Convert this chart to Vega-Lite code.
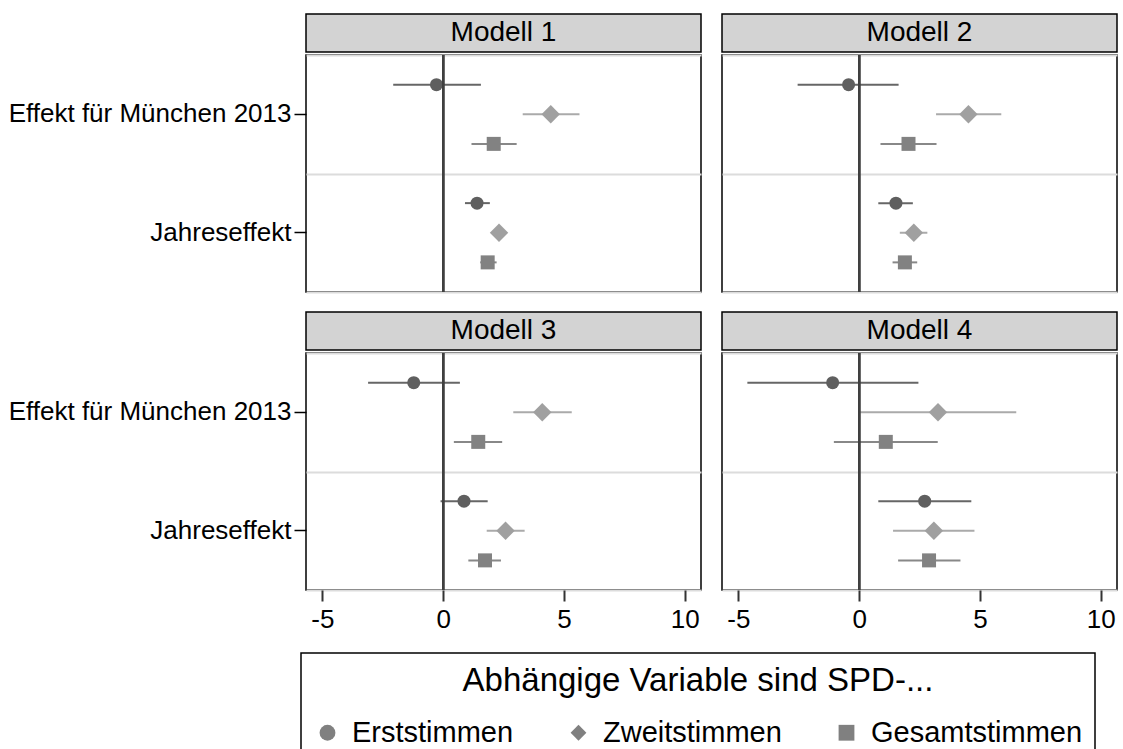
{
  "$schema": "https://vega.github.io/schema/vega-lite/v6.json",
  "padding": {"left": 7, "top": 13, "right": 0, "bottom": 0},
  "background": "white",
  "data": {"values": [
    {"model": "Modell 1", "effect": "Effekt für München 2013", "series": "Erststimmen", "est": -0.28, "lo": -2.07, "hi": 1.56},
    {"model": "Modell 1", "effect": "Effekt für München 2013", "series": "Zweitstimmen", "est": 4.45, "lo": 3.29, "hi": 5.64},
    {"model": "Modell 1", "effect": "Effekt für München 2013", "series": "Gesamtstimmen", "est": 2.09, "lo": 1.17, "hi": 3.04},
    {"model": "Modell 1", "effect": "Jahreseffekt", "series": "Erststimmen", "est": 1.40, "lo": 0.90, "hi": 1.93},
    {"model": "Modell 1", "effect": "Jahreseffekt", "series": "Zweitstimmen", "est": 2.31, "lo": 2.05, "hi": 2.57},
    {"model": "Modell 1", "effect": "Jahreseffekt", "series": "Gesamtstimmen", "est": 1.84, "lo": 1.53, "hi": 2.21},
    {"model": "Modell 2", "effect": "Effekt für München 2013", "series": "Erststimmen", "est": -0.44, "lo": -2.55, "hi": 1.63},
    {"model": "Modell 2", "effect": "Effekt für München 2013", "series": "Zweitstimmen", "est": 4.52, "lo": 3.18, "hi": 5.88},
    {"model": "Modell 2", "effect": "Effekt für München 2013", "series": "Gesamtstimmen", "est": 2.04, "lo": 0.88, "hi": 3.20},
    {"model": "Modell 2", "effect": "Jahreseffekt", "series": "Erststimmen", "est": 1.52, "lo": 0.79, "hi": 2.22},
    {"model": "Modell 2", "effect": "Jahreseffekt", "series": "Zweitstimmen", "est": 2.26, "lo": 1.68, "hi": 2.82},
    {"model": "Modell 2", "effect": "Jahreseffekt", "series": "Gesamtstimmen", "est": 1.89, "lo": 1.38, "hi": 2.40},
    {"model": "Modell 3", "effect": "Effekt für München 2013", "series": "Erststimmen", "est": -1.22, "lo": -3.11, "hi": 0.69},
    {"model": "Modell 3", "effect": "Effekt für München 2013", "series": "Zweitstimmen", "est": 4.10, "lo": 2.90, "hi": 5.32},
    {"model": "Modell 3", "effect": "Effekt für München 2013", "series": "Gesamtstimmen", "est": 1.45, "lo": 0.44, "hi": 2.44},
    {"model": "Modell 3", "effect": "Jahreseffekt", "series": "Erststimmen", "est": 0.86, "lo": -0.11, "hi": 1.84},
    {"model": "Modell 3", "effect": "Jahreseffekt", "series": "Zweitstimmen", "est": 2.58, "lo": 1.80, "hi": 3.37},
    {"model": "Modell 3", "effect": "Jahreseffekt", "series": "Gesamtstimmen", "est": 1.73, "lo": 1.04, "hi": 2.39},
    {"model": "Modell 4", "effect": "Effekt für München 2013", "series": "Erststimmen", "est": -1.10, "lo": -4.63, "hi": 2.45},
    {"model": "Modell 4", "effect": "Effekt für München 2013", "series": "Zweitstimmen", "est": 3.26, "lo": 0.04, "hi": 6.50},
    {"model": "Modell 4", "effect": "Effekt für München 2013", "series": "Gesamtstimmen", "est": 1.10, "lo": -1.05, "hi": 3.25},
    {"model": "Modell 4", "effect": "Jahreseffekt", "series": "Erststimmen", "est": 2.71, "lo": 0.79, "hi": 4.64},
    {"model": "Modell 4", "effect": "Jahreseffekt", "series": "Zweitstimmen", "est": 3.09, "lo": 1.40, "hi": 4.77},
    {"model": "Modell 4", "effect": "Jahreseffekt", "series": "Gesamtstimmen", "est": 2.89, "lo": 1.61, "hi": 4.19}
  ]},
  "spacing": 17,
  "vconcat": [
    {"hconcat": [
      {"vconcat": [
        {"width": 395, "height": 38, "view": {"fill": "#d3d3d3", "stroke": "black", "strokeWidth": 1.5},
         "transform": [{"filter": "datum.model == 'Modell 1'"}, {"aggregate": [{"op": "count", "as": "n"}], "groupby": ["model"]}],
         "mark": {"type": "text", "fontSize": 28, "color": "black"},
         "encoding": {"text": {"field": "model"},
           "y": {"field": "model", "type": "nominal", "title": null, "axis": {"labels": false, "ticks": false, "domain": false, "grid": false, "minExtent": 294, "maxExtent": 294}}}},
        {"width": 395, "height": 237,
         "transform": [{"filter": "datum.model == 'Modell 1'"}],
         "layer": [
           {"mark": {"type": "rule", "strokeWidth": 2},
            "encoding": {
              "y": {"field": "effect", "type": "nominal", "sort": ["Effekt für München 2013", "Jahreseffekt"], "scale": {"paddingInner": 0, "paddingOuter": 0}, "title": null, "axis": {"minExtent": 294, "maxExtent": 294}},
              "yOffset": {"field": "series", "type": "nominal", "sort": ["Erststimmen", "Zweitstimmen", "Gesamtstimmen"], "scale": {"paddingInner": 0, "paddingOuter": 0.5}},
              "x": {"field": "lo", "type": "quantitative", "scale": {"domain": [-5.68, 10.67], "nice": false, "zero": false}, "title": null, "axis": null},
              "x2": {"field": "hi"},
              "stroke": {"field": "series", "type": "nominal", "sort": ["Erststimmen", "Zweitstimmen", "Gesamtstimmen"], "scale": {"range": ["#666666", "#aaaaaa", "#888888"]}, "legend": null}}},
           {"mark": {"type": "point", "filled": true, "opacity": 1},
            "encoding": {
              "y": {"field": "effect", "type": "nominal", "sort": ["Effekt für München 2013", "Jahreseffekt"], "title": null, "axis": {"grid": true, "tickBand": "extent", "labels": false, "ticks": false, "domain": false, "orient": "right", "gridColor": "#dcdcdc", "gridWidth": 2, "minExtent": 0, "maxExtent": 0}},
              "yOffset": {"field": "series", "type": "nominal", "sort": ["Erststimmen", "Zweitstimmen", "Gesamtstimmen"]},
              "x": {"field": "est", "type": "quantitative", "title": null, "axis": null},
              "color": {"field": "series", "type": "nominal", "sort": ["Erststimmen", "Zweitstimmen", "Gesamtstimmen"], "scale": {"range": ["#5f5f5f", "#a0a0a0", "#828282"]}, "legend": null},
              "shape": {"field": "series", "type": "nominal", "sort": ["Erststimmen", "Zweitstimmen", "Gesamtstimmen"], "scale": {"range": ["circle", "diamond", "square"]}, "title": "Abhängige Variable sind SPD-...", "legend": {"orient": "none", "legendX": -5, "legendY": 639, "direction": "horizontal", "symbolFillColor": "#808080", "encode": {"symbols": {"update": {"fill": {"scale": "color", "field": "value"}}}}}},
              "size": {"field": "series", "type": "nominal", "sort": ["Erststimmen", "Zweitstimmen", "Gesamtstimmen"], "scale": {"type": "ordinal", "range": [169, 340, 196]}, "legend": null}}},
           {"mark": {"type": "rule", "color": "#404040", "strokeWidth": 2},
            "encoding": {"x": {"datum": 0, "type": "quantitative", "title": null, "axis": null}}}
         ],
         "resolve": {"axis": {"y": "independent"}}}
      ], "spacing": 0},
      {"vconcat": [
        {"width": 395, "height": 38, "view": {"fill": "#d3d3d3", "stroke": "black", "strokeWidth": 1.5},
         "transform": [{"filter": "datum.model == 'Modell 2'"}, {"aggregate": [{"op": "count", "as": "n"}], "groupby": ["model"]}],
         "mark": {"type": "text", "fontSize": 28, "color": "black"},
         "encoding": {"text": {"field": "model"}}},
        {"width": 395, "height": 237,
         "transform": [{"filter": "datum.model == 'Modell 2'"}],
         "layer": [
           {"mark": {"type": "rule", "strokeWidth": 2},
            "encoding": {
              "y": {"field": "effect", "type": "nominal", "sort": ["Effekt für München 2013", "Jahreseffekt"], "scale": {"paddingInner": 0, "paddingOuter": 0}, "title": null, "axis": null},
              "yOffset": {"field": "series", "type": "nominal", "sort": ["Erststimmen", "Zweitstimmen", "Gesamtstimmen"], "scale": {"paddingInner": 0, "paddingOuter": 0.5}},
              "x": {"field": "lo", "type": "quantitative", "scale": {"domain": [-5.68, 10.67], "nice": false, "zero": false}, "title": null, "axis": null},
              "x2": {"field": "hi"},
              "stroke": {"field": "series", "type": "nominal", "sort": ["Erststimmen", "Zweitstimmen", "Gesamtstimmen"], "scale": {"range": ["#666666", "#aaaaaa", "#888888"]}, "legend": null}}},
           {"mark": {"type": "point", "filled": true, "opacity": 1},
            "encoding": {
              "y": {"field": "effect", "type": "nominal", "sort": ["Effekt für München 2013", "Jahreseffekt"], "title": null, "axis": {"grid": true, "tickBand": "extent", "labels": false, "ticks": false, "domain": false, "orient": "right", "gridColor": "#dcdcdc", "gridWidth": 2, "minExtent": 0, "maxExtent": 0}},
              "yOffset": {"field": "series", "type": "nominal", "sort": ["Erststimmen", "Zweitstimmen", "Gesamtstimmen"]},
              "x": {"field": "est", "type": "quantitative", "title": null, "axis": null},
              "color": {"field": "series", "type": "nominal", "sort": ["Erststimmen", "Zweitstimmen", "Gesamtstimmen"], "scale": {"range": ["#5f5f5f", "#a0a0a0", "#828282"]}, "legend": null},
              "shape": {"field": "series", "type": "nominal", "sort": ["Erststimmen", "Zweitstimmen", "Gesamtstimmen"], "scale": {"range": ["circle", "diamond", "square"]}, "title": "Abhängige Variable sind SPD-...", "legend": {"orient": "none", "legendX": -5, "legendY": 639, "direction": "horizontal", "symbolFillColor": "#808080", "encode": {"symbols": {"update": {"fill": {"scale": "color", "field": "value"}}}}}},
              "size": {"field": "series", "type": "nominal", "sort": ["Erststimmen", "Zweitstimmen", "Gesamtstimmen"], "scale": {"type": "ordinal", "range": [169, 340, 196]}, "legend": null}}},
           {"mark": {"type": "rule", "color": "#404040", "strokeWidth": 2},
            "encoding": {"x": {"datum": 0, "type": "quantitative", "title": null, "axis": null}}}
         ],
         "resolve": {"axis": {"y": "independent"}}}
      ], "spacing": 0}
    ], "spacing": 19},
    {"hconcat": [
      {"vconcat": [
        {"width": 395, "height": 38, "view": {"fill": "#d3d3d3", "stroke": "black", "strokeWidth": 1.5},
         "transform": [{"filter": "datum.model == 'Modell 3'"}, {"aggregate": [{"op": "count", "as": "n"}], "groupby": ["model"]}],
         "mark": {"type": "text", "fontSize": 28, "color": "black"},
         "encoding": {"text": {"field": "model"},
           "y": {"field": "model", "type": "nominal", "title": null, "axis": {"labels": false, "ticks": false, "domain": false, "grid": false, "minExtent": 294, "maxExtent": 294}}}},
        {"width": 395, "height": 237,
         "transform": [{"filter": "datum.model == 'Modell 3'"}],
         "layer": [
           {"mark": {"type": "rule", "strokeWidth": 2},
            "encoding": {
              "y": {"field": "effect", "type": "nominal", "sort": ["Effekt für München 2013", "Jahreseffekt"], "scale": {"paddingInner": 0, "paddingOuter": 0}, "title": null, "axis": {"minExtent": 294, "maxExtent": 294}},
              "yOffset": {"field": "series", "type": "nominal", "sort": ["Erststimmen", "Zweitstimmen", "Gesamtstimmen"], "scale": {"paddingInner": 0, "paddingOuter": 0.5}},
              "x": {"field": "lo", "type": "quantitative", "scale": {"domain": [-5.68, 10.67], "nice": false, "zero": false}, "title": null, "axis": {"values": [-5, 0, 5, 10], "labelExpr": "'' + datum.value"}},
              "x2": {"field": "hi"},
              "stroke": {"field": "series", "type": "nominal", "sort": ["Erststimmen", "Zweitstimmen", "Gesamtstimmen"], "scale": {"range": ["#666666", "#aaaaaa", "#888888"]}, "legend": null}}},
           {"mark": {"type": "point", "filled": true, "opacity": 1},
            "encoding": {
              "y": {"field": "effect", "type": "nominal", "sort": ["Effekt für München 2013", "Jahreseffekt"], "title": null, "axis": {"grid": true, "tickBand": "extent", "labels": false, "ticks": false, "domain": false, "orient": "right", "gridColor": "#dcdcdc", "gridWidth": 2, "minExtent": 0, "maxExtent": 0}},
              "yOffset": {"field": "series", "type": "nominal", "sort": ["Erststimmen", "Zweitstimmen", "Gesamtstimmen"]},
              "x": {"field": "est", "type": "quantitative", "title": null, "axis": {"values": [-5, 0, 5, 10], "labelExpr": "'' + datum.value"}},
              "color": {"field": "series", "type": "nominal", "sort": ["Erststimmen", "Zweitstimmen", "Gesamtstimmen"], "scale": {"range": ["#5f5f5f", "#a0a0a0", "#828282"]}, "legend": null},
              "shape": {"field": "series", "type": "nominal", "sort": ["Erststimmen", "Zweitstimmen", "Gesamtstimmen"], "scale": {"range": ["circle", "diamond", "square"]}, "title": "Abhängige Variable sind SPD-...", "legend": {"orient": "none", "legendX": -5, "legendY": 639, "direction": "horizontal", "symbolFillColor": "#808080", "encode": {"symbols": {"update": {"fill": {"scale": "color", "field": "value"}}}}}},
              "size": {"field": "series", "type": "nominal", "sort": ["Erststimmen", "Zweitstimmen", "Gesamtstimmen"], "scale": {"type": "ordinal", "range": [169, 340, 196]}, "legend": null}}},
           {"mark": {"type": "rule", "color": "#404040", "strokeWidth": 2},
            "encoding": {"x": {"datum": 0, "type": "quantitative", "title": null, "axis": {"values": [-5, 0, 5, 10], "labelExpr": "'' + datum.value"}}}}
         ],
         "resolve": {"axis": {"y": "independent"}}}
      ], "spacing": 0},
      {"vconcat": [
        {"width": 395, "height": 38, "view": {"fill": "#d3d3d3", "stroke": "black", "strokeWidth": 1.5},
         "transform": [{"filter": "datum.model == 'Modell 4'"}, {"aggregate": [{"op": "count", "as": "n"}], "groupby": ["model"]}],
         "mark": {"type": "text", "fontSize": 28, "color": "black"},
         "encoding": {"text": {"field": "model"}}},
        {"width": 395, "height": 237,
         "transform": [{"filter": "datum.model == 'Modell 4'"}],
         "layer": [
           {"mark": {"type": "rule", "strokeWidth": 2},
            "encoding": {
              "y": {"field": "effect", "type": "nominal", "sort": ["Effekt für München 2013", "Jahreseffekt"], "scale": {"paddingInner": 0, "paddingOuter": 0}, "title": null, "axis": null},
              "yOffset": {"field": "series", "type": "nominal", "sort": ["Erststimmen", "Zweitstimmen", "Gesamtstimmen"], "scale": {"paddingInner": 0, "paddingOuter": 0.5}},
              "x": {"field": "lo", "type": "quantitative", "scale": {"domain": [-5.68, 10.67], "nice": false, "zero": false}, "title": null, "axis": {"values": [-5, 0, 5, 10], "labelExpr": "'' + datum.value"}},
              "x2": {"field": "hi"},
              "stroke": {"field": "series", "type": "nominal", "sort": ["Erststimmen", "Zweitstimmen", "Gesamtstimmen"], "scale": {"range": ["#666666", "#aaaaaa", "#888888"]}, "legend": null}}},
           {"mark": {"type": "point", "filled": true, "opacity": 1},
            "encoding": {
              "y": {"field": "effect", "type": "nominal", "sort": ["Effekt für München 2013", "Jahreseffekt"], "title": null, "axis": {"grid": true, "tickBand": "extent", "labels": false, "ticks": false, "domain": false, "orient": "right", "gridColor": "#dcdcdc", "gridWidth": 2, "minExtent": 0, "maxExtent": 0}},
              "yOffset": {"field": "series", "type": "nominal", "sort": ["Erststimmen", "Zweitstimmen", "Gesamtstimmen"]},
              "x": {"field": "est", "type": "quantitative", "title": null, "axis": {"values": [-5, 0, 5, 10], "labelExpr": "'' + datum.value"}},
              "color": {"field": "series", "type": "nominal", "sort": ["Erststimmen", "Zweitstimmen", "Gesamtstimmen"], "scale": {"range": ["#5f5f5f", "#a0a0a0", "#828282"]}, "legend": null},
              "shape": {"field": "series", "type": "nominal", "sort": ["Erststimmen", "Zweitstimmen", "Gesamtstimmen"], "scale": {"range": ["circle", "diamond", "square"]}, "title": "Abhängige Variable sind SPD-...", "legend": {"orient": "none", "legendX": -5, "legendY": 639, "direction": "horizontal", "symbolFillColor": "#808080", "encode": {"symbols": {"update": {"fill": {"scale": "color", "field": "value"}}}}}},
              "size": {"field": "series", "type": "nominal", "sort": ["Erststimmen", "Zweitstimmen", "Gesamtstimmen"], "scale": {"type": "ordinal", "range": [169, 340, 196]}, "legend": null}}},
           {"mark": {"type": "rule", "color": "#404040", "strokeWidth": 2},
            "encoding": {"x": {"datum": 0, "type": "quantitative", "title": null, "axis": {"values": [-5, 0, 5, 10], "labelExpr": "'' + datum.value"}}}}
         ],
         "resolve": {"axis": {"y": "independent"}}}
      ], "spacing": 0}
    ], "spacing": 19}
  ],
  "config": {
    "font": "Liberation Sans",
    "view": {"stroke": "black", "strokeWidth": 1.5},
    "axisY": {"labelFontSize": 26, "labelColor": "black", "labelLimit": 400, "tickColor": "black", "tickSize": 12, "tickWidth": 1.5, "labelPadding": 3, "domain": false, "grid": false},
    "axisX": {"labelFontSize": 26, "labelColor": "black", "tickColor": "#333333", "tickSize": 11, "tickWidth": 2, "labelPadding": 5, "domain": false, "grid": false},
    "legend": {"titleOrient": "top", "titleAnchor": "middle", "titleFontSize": 33, "titleFontWeight": "normal", "titleColor": "black", "titleLimit": 1000, "labelFontSize": 29, "labelColor": "black", "labelLimit": 500, "symbolSize": 250, "symbolStrokeWidth": 0, "labelOffset": 10, "columnPadding": 50, "padding": 12, "strokeColor": "black", "strokeWidth": 1.5, "titlePadding": 20}
  }
}
